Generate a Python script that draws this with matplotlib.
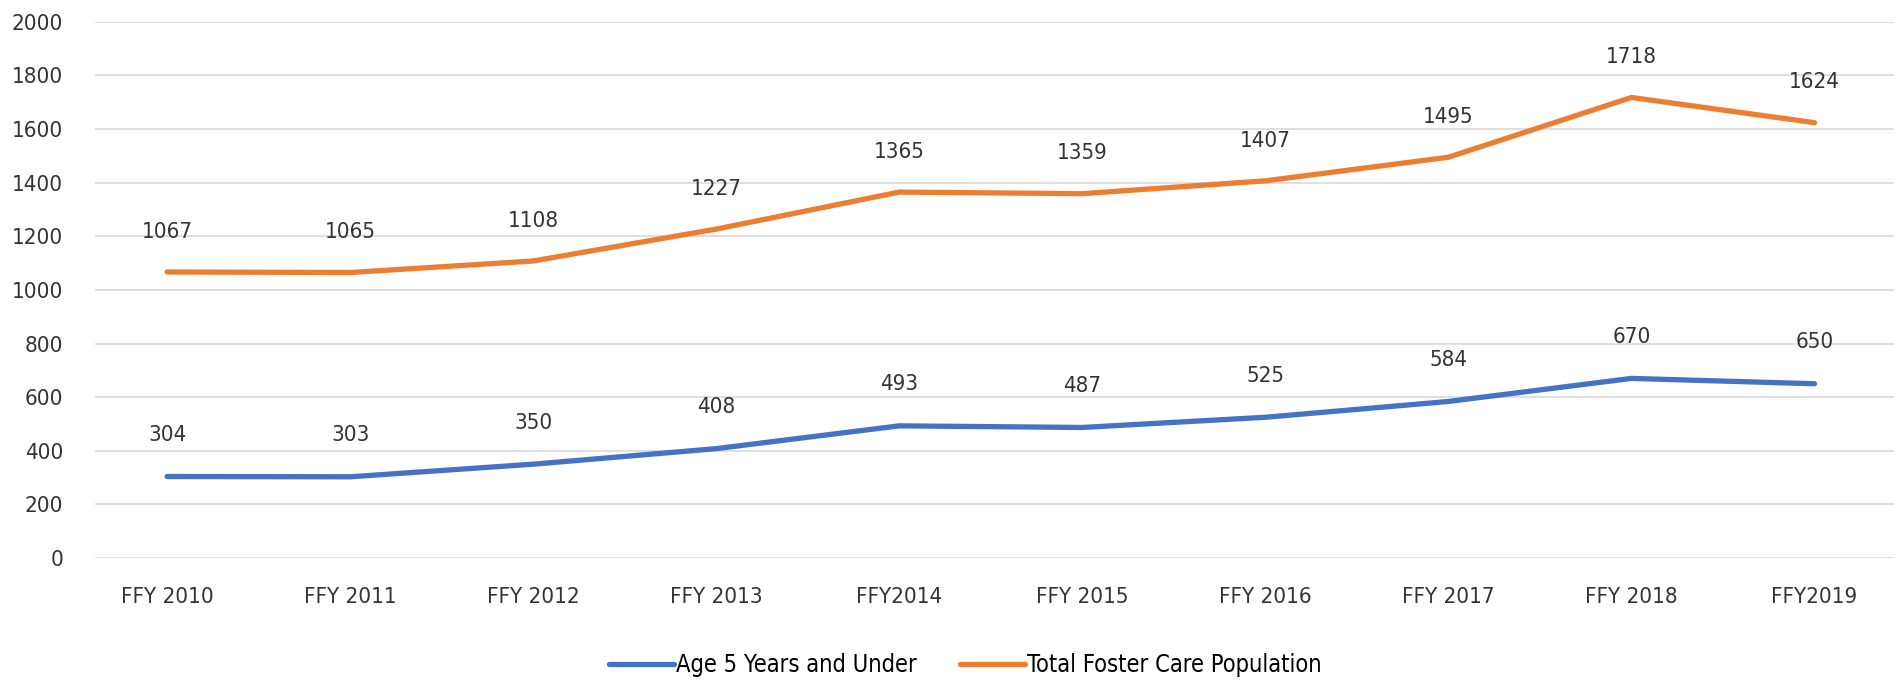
import matplotlib.pyplot as plt

plt.rcParams['font.family'] = ['DejaVu Sans']
plt.rcParams['font.stretch'] = 'condensed'

years = ["FFY 2010", "FFY 2011", "FFY 2012", "FFY 2013", "FFY2014",
         "FFY 2015", "FFY 2016", "FFY 2017", "FFY 2018", "FFY2019"]
under5 = [304, 303, 350, 408, 493, 487, 525, 584, 670, 650]
total = [1067, 1065, 1108, 1227, 1365, 1359, 1407, 1495, 1718, 1624]

blue = '#4472C4'
orange = '#ED7D31'

fig = plt.figure(figsize=(19.04, 6.83), dpi=100)
ax = fig.add_axes([0.05, 0.183, 0.945, 0.785])

x = list(range(len(years)))
ax.plot(x, under5, color=blue, lw=3.8, solid_capstyle='round', label='Age 5 Years and Under')
ax.plot(x, total, color=orange, lw=3.8, solid_capstyle='round', label='Total Foster Care Population')

for xi, v in zip(x, under5):
    ax.annotate(str(v), (xi, v), xytext=(0, 30), textcoords='offset points',
                ha='center', va='center', fontsize=16, color='#333333')
for xi, v in zip(x, total):
    ax.annotate(str(v), (xi, v), xytext=(0, 29), textcoords='offset points',
                ha='center', va='center', fontsize=16, color='#333333')

ax.set_xlim(-0.393, 9.437)
ax.set_ylim(0, 2000)
ax.set_yticks(range(0, 2001, 200))
ax.set_xticks(x)
ax.set_xticklabels(years)
ax.tick_params(length=0, labelsize=16, colors='#333333')
ax.tick_params(axis='x', pad=21)
ax.tick_params(axis='y', pad=23)
ax.grid(axis='y', color='#D9D9D9', lw=1.2)
ax.set_axisbelow(True)
for s in ax.spines.values():
    s.set_visible(False)

fig.legend(loc='center', bbox_to_anchor=(0.507, 0.026), ncol=2, frameon=False,
           fontsize=17, handlelength=2.75, columnspacing=1.8, handletextpad=0.1)

fig.savefig('out.png', dpi=100)
